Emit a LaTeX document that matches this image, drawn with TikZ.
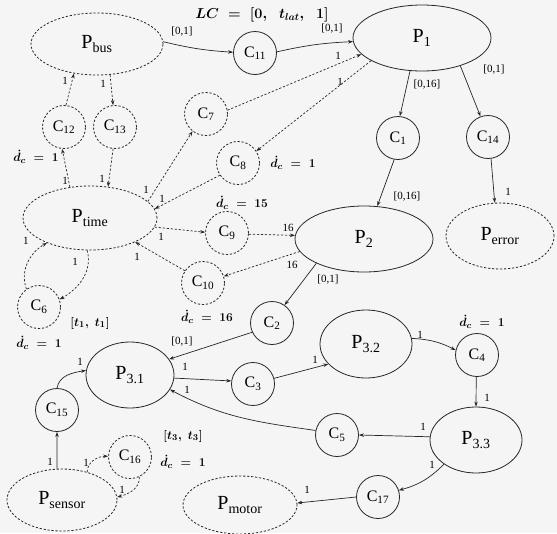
\documentclass[tikz,border=0pt]{standalone}
\usepackage{fontspec}
\setmainfont{Liberation Serif}
\usetikzlibrary{shapes.geometric, arrows.meta}
\newcommand{\mysub}[1]{\textsubscript{#1}}
\newcommand{\mydc}{\dot{d}_{c}\;=\;}
\begin{document}
\begin{tikzpicture}[x=1pt,y=-1pt,
  proc/.style={ellipse, draw=black!85, line width=0.8pt, inner sep=0pt, font=\fontsize{20}{22}\selectfont},
  chan/.style={circle, draw=black!85, line width=0.8pt, minimum size=43pt, inner sep=0pt, font=\fontsize{16}{18}\selectfont},
  dsh/.style={dash pattern=on 2.2pt off 1.8pt},
  arr/.style={draw=black!85, line width=0.7pt, -{Stealth[length=5pt,width=3.5pt]}},
  darr/.style={arr, dsh},
  lbl/.style={font=\fontsize{11}{12}\selectfont, inner sep=0pt},
  mlbl/.style={font=\fontsize{13}{14}\selectfont\boldmath, inner sep=0pt}
]
\fill[black!4] (0,0) rectangle (557,533);
\useasboundingbox (0,0) rectangle (557,533);

% processes
\node[proc, dsh, minimum width=132pt, minimum height=62pt] (Pbus) at (97,44) {P\mysub{bus}};
\node[proc, minimum width=138pt, minimum height=66pt] (P1) at (422,38) {P\mysub{1}};
\node[proc, dsh, minimum width=134pt, minimum height=64pt] (Ptime) at (90,218) {P\mysub{time}};
\node[proc, minimum width=138pt, minimum height=66pt] (P2) at (364,239) {P\mysub{2}};
\node[proc, dsh, minimum width=108pt, minimum height=66pt] (Perror) at (500,236) {P\mysub{error}};
\node[proc, minimum width=88pt, minimum height=66pt] (P31) at (130,375) {P\mysub{3.1}};
\node[proc, minimum width=92pt, minimum height=68pt] (P32) at (366,344) {P\mysub{3.2}};
\node[proc, minimum width=92pt, minimum height=66pt] (P33) at (476,440) {P\mysub{3.3}};
\node[proc, dsh, minimum width=110pt, minimum height=62pt] (Psensor) at (62,500) {P\mysub{sensor}};
\node[proc, dsh, minimum width=114pt, minimum height=58pt] (Pmotor) at (240,505) {P\mysub{motor}};

% channels
\node[chan] (C11) at (255,53) {C\mysub{11}};
\node[chan, dsh] (C12) at (64,127) {C\mysub{12}};
\node[chan, dsh] (C13) at (115,127) {C\mysub{13}};
\node[chan, dsh] (C7) at (206,114) {C\mysub{7}};
\node[chan, dsh] (C8) at (238,163) {C\mysub{8}};
\node[chan] (C1) at (398,138) {C\mysub{1}};
\node[chan] (C14) at (488,137) {C\mysub{14}};
\node[chan, dsh] (C9) at (227,233) {C\mysub{9}};
\node[chan, dsh] (C10) at (203,283) {C\mysub{10}};
\node[chan, dsh] (C6) at (39,307) {C\mysub{6}};
\node[chan] (C2) at (272,323) {C\mysub{2}};
\node[chan] (C3) at (253,384) {C\mysub{3}};
\node[chan] (C4) at (477,355) {C\mysub{4}};
\node[chan] (C5) at (337,435) {C\mysub{5}};
\node[chan] (C17) at (378,497) {C\mysub{17}};
\node[chan] (C15) at (57,410) {C\mysub{15}};
\node[chan, dsh] (C16) at (130,457) {C\mysub{16}};

% solid connectors
\draw[arr] (Pbus.2) to[bend right=5] (C11.178);
\draw[arr] (C11.3) to[bend left=5] (P1.183);
\draw[arr] (P1.250) -- (C1.85);
\draw[arr] (P1.-36) -- (C14.110);
\draw[arr] (C1.-100) -- (P2.68);
\draw[arr] (C14.-82) -- (Perror.99);
\draw[arr] (P2.207) -- (C2.55);
\draw[arr] (C2.205) -- (P31.22);
\draw[arr] (P31.-4) -- (C3.172);
\draw[arr] (C3.15) -- (P32.208);
\draw[arr] (P32.7) to[bend left=12] (C4.167);
\draw[arr] (C4.-92) -- (P33.90);
\draw[arr] (P33.176) -- (C5.east);
\draw[arr] (C5.168) to[out=172, in=-28] (P31.-20);
\draw[arr] (P33.217) to[bend left=15] (C17.18);
\draw[arr] (C17.180) -- (Pmotor.2);
\draw[arr] (Psensor.99) -- (C15.270);
\draw[arr] (C15.90) to[out=80, in=190] (P31.174);

% dashed connectors
\draw[darr] (C12.85) -- (Pbus.232);
\draw[darr] (Pbus.293) -- (C13.95);
\draw[darr] (Ptime.123) -- (C12.265);
\draw[darr] (C13.265) -- (Ptime.60);
\draw[darr] (Ptime.16) -- (C7.232);
\draw[darr] (C8.214) -- (Ptime.8);
\draw[darr] (C7.10) -- (P1.195);
\draw[darr] (P1.204) -- (C8.33);
\draw[darr] (Ptime.-8) -- (C9.178);
\draw[darr] (C9.-3) -- (P2.177);
\draw[darr] (P2.191) -- (C10.18);
\draw[darr] (C10.146) -- (Ptime.-28);
\draw[darr] (Ptime.265) to[out=-75, in=30] (C6.20);
\draw[darr] (C6.125) to[out=110, in=210] (Ptime.210);
\draw[darr] (Psensor.48) to[out=90, in=180] (C16.178);
\draw[darr] (C16.-65) to[out=-85, in=15] (Psensor.3);

% labels
\node[mlbl, font=\fontsize{14.5}{16}\selectfont\boldmath] (lLC) at (262,15) {$LC\;=\;[0,\;\;t_{lat},\;\;1]$};
\node[lbl] (l1) at (182,32) {[0,1]};
\node[lbl] (l2) at (332,29) {[0,1]};
\node[lbl] (l3) at (338,56) {1};
\node[lbl] (l4) at (340,82) {1};
\node[lbl] (l5) at (427,85) {[0,16]};
\node[lbl] (l6) at (494,70) {[0,1]};
\node[lbl] (l7) at (65,81) {1};
\node[lbl] (l8) at (103,84) {1};
\node[mlbl] (dc12) at (36,157) {$\mydc 1$};
\node[lbl] (l9) at (65,181) {1};
\node[lbl] (l10) at (102,179) {1};
\node[lbl] (l11) at (146,190) {1};
\node[lbl] (l12) at (162,199) {1};
\node[mlbl] (dc8) at (293,163) {$\mydc 1$};
\node[mlbl] (dc9) at (242,203) {$\mydc 15$};
\node[lbl] (l13) at (161,237) {1};
\node[lbl] (l14) at (288,228) {16};
\node[lbl] (l15) at (292,265) {16};
\node[lbl] (l16) at (407,197) {[0,16]};
\node[lbl] (l17) at (508,192) {1};
\node[lbl] (l18) at (328,280) {[0,1]};
\node[lbl] (l19) at (137,257) {1};
\node[lbl] (l20) at (75,262) {1};
\node[lbl] (l21) at (26,241) {1};
\node[mlbl] (t1) at (90,323) {$[t_1,\;t_1]$};
\node[mlbl] (dc10) at (207,317) {$\mydc 16$};
\node[mlbl] (dc6) at (39,343) {$\mydc 1$};
\node[lbl] (l22) at (182,342) {[0,1]};
\node[lbl] (l23) at (185,367) {1};
\node[lbl] (l24) at (187,390) {1};
\node[lbl] (l25) at (80,362) {1};
\node[lbl] (l26) at (50,462) {1};
\node[lbl] (l27) at (86,463) {1};
\node[lbl] (l28) at (122,490) {1};
\node[mlbl] (t3) at (183,436) {$[t_3,\;t_3]$};
\node[mlbl] (dc16) at (183,462) {$\mydc 1$};
\node[lbl] (l29) at (315,360) {1};
\node[lbl] (l30) at (420,335) {1};
\node[mlbl] (dc4) at (482,322) {$\mydc 1$};
\node[lbl] (l31) at (487,398) {1};
\node[lbl] (l32) at (423,427) {1};
\node[lbl] (l33) at (432,465) {1};
\node[lbl] (l34) at (307,490) {1};
\end{tikzpicture}
\end{document}
